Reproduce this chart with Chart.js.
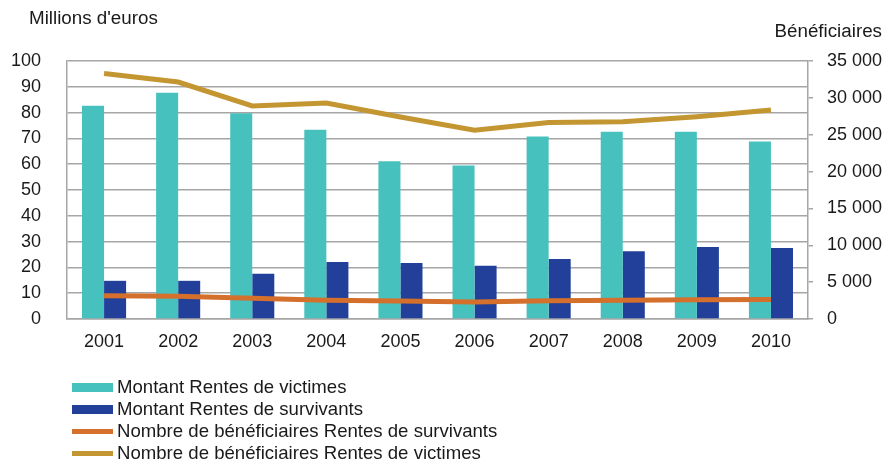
<!DOCTYPE html>
<html>
<head>
<meta charset="utf-8">
<script src="https://cdn.jsdelivr.net/npm/chart.js@4/dist/chart.umd.min.js"></script>
<style>
  html, body { margin: 0; padding: 0; background: #fff; }
  #wrap { position: relative; width: 884px; height: 460px; font-family: 'Liberation Sans', Arial, sans-serif; color: #1a1a1a; }
  #legend { position: absolute; left: 72px; top: 376px; }
  .lg-row { display: flex; align-items: center; height: 22px; font-size: 18.6px; }
  .lg-key { width: 41px; margin-right: 4px; }
</style>
</head>
<body>
<div id="wrap">
  <canvas id="chart" width="884" height="460"></canvas>
  <div id="legend"></div>
</div>
<script>
// ---- data ----
const years = ['2001','2002','2003','2004','2005','2006','2007','2008','2009','2010'];
const montantVictimes = [82.7, 87.7, 79.7, 73.4, 61.1, 59.5, 70.7, 72.6, 72.6, 68.8];
const montantSurvivants = [14.8, 14.8, 17.5, 22.1, 21.7, 20.6, 23.3, 26.3, 27.9, 27.5];
const benefSurvivants = [3150, 3100, 2830, 2560, 2430, 2290, 2470, 2560, 2610, 2650];
const benefVictimes = [33300, 32150, 28900, 29300, 27400, 25600, 26650, 26750, 27450, 28350];

const leftTitle = "Millions d'euros";
const rightTitle = 'Bénéficiaires';

const C_TEAL = '#47c1be', C_NAVY = '#22409a', C_ORANGE = '#d46f2c', C_GOLD = '#c39632';
const FONT = "'Liberation Sans', Arial, sans-serif";
const TXT = '#1a1a1a', GRID = '#a6a6a6';

const fmtSpace = v => String(v).replace(/\B(?=(\d{3})+(?!\d))/g, ' ');

// axis titles drawn straight on the canvas
const titlesPlugin = {
  id: 'titles',
  afterDraw(chart) {
    const ctx = chart.ctx;
    ctx.save();
    ctx.fillStyle = TXT;
    ctx.font = '18.8px ' + FONT;
    ctx.textBaseline = 'middle';
    ctx.textAlign = 'left';
    ctx.fillText(leftTitle, 29, 19);
    ctx.textAlign = 'right';
    ctx.fillText(rightTitle, 882, 32);
    ctx.restore();
  }
};

const datasets = [
  { type: 'bar', label: 'Montant Rentes de victimes', data: montantVictimes, backgroundColor: C_TEAL, yAxisID: 'y', order: 3 },
  { type: 'bar', label: 'Montant Rentes de survivants', data: montantSurvivants, backgroundColor: C_NAVY, yAxisID: 'y', order: 3 },
  { type: 'line', label: 'Nombre de bénéficiaires Rentes de survivants', data: benefSurvivants, borderColor: C_ORANGE, borderWidth: 5, pointRadius: 0, tension: 0, yAxisID: 'y1', order: 1, legendH: 5 },
  { type: 'line', label: 'Nombre de bénéficiaires Rentes de victimes', data: benefVictimes, borderColor: C_GOLD, borderWidth: 5, pointRadius: 0, tension: 0, yAxisID: 'y1', order: 1, legendH: 5 },
];

new Chart(document.getElementById('chart'), {
  data: { labels: years, datasets },
  options: {
    responsive: false,
    animation: false,
    layout: { padding: { top: 61, bottom: 101, left: 0, right: 0 } },
    datasets: { bar: { categoryPercentage: 0.595, barPercentage: 1 } },
    plugins: { legend: { display: false }, tooltip: { enabled: false } },
    scales: {
      x: {
        grid: { display: false, drawTicks: false },
        border: { display: true, color: GRID, width: 1.5 },
        ticks: { color: TXT, font: { family: FONT, size: 18 }, padding: 12, maxRotation: 0 },
        afterFit: s => { s.height = 40; }
      },
      y: {
        position: 'left',
        min: 0, max: 100,
        ticks: { stepSize: 10, color: TXT, font: { family: FONT, size: 18 }, padding: 26 },
        grid: { color: GRID, lineWidth: 1.5, drawTicks: false },
        border: { display: true, color: GRID, width: 1.5 },
        afterFit: s => { s.width = 67; }
      },
      y1: {
        position: 'right',
        min: 0, max: 35000,
        ticks: { stepSize: 5000, color: TXT, font: { family: FONT, size: 18 }, padding: 14, callback: v => fmtSpace(v) },
        grid: { drawOnChartArea: false, color: GRID, lineWidth: 1.5, tickLength: 5 },
        border: { display: true, color: GRID, width: 1.5 },
        afterFit: s => { s.width = 76; }
      }
    }
  },
  plugins: [titlesPlugin]
});

// legend below the chart, one row per series
const legend = document.getElementById('legend');
datasets.forEach(ds => {
  const row = document.createElement('div');
  row.className = 'lg-row';
  const key = document.createElement('div');
  key.className = 'lg-key';
  key.style.height = (ds.legendH || 9) + 'px';
  key.style.background = ds.type === 'bar' ? ds.backgroundColor : ds.borderColor;
  const txt = document.createElement('span');
  txt.textContent = ds.label;
  row.appendChild(key);
  row.appendChild(txt);
  legend.appendChild(row);
});
</script>
</body>
</html>
